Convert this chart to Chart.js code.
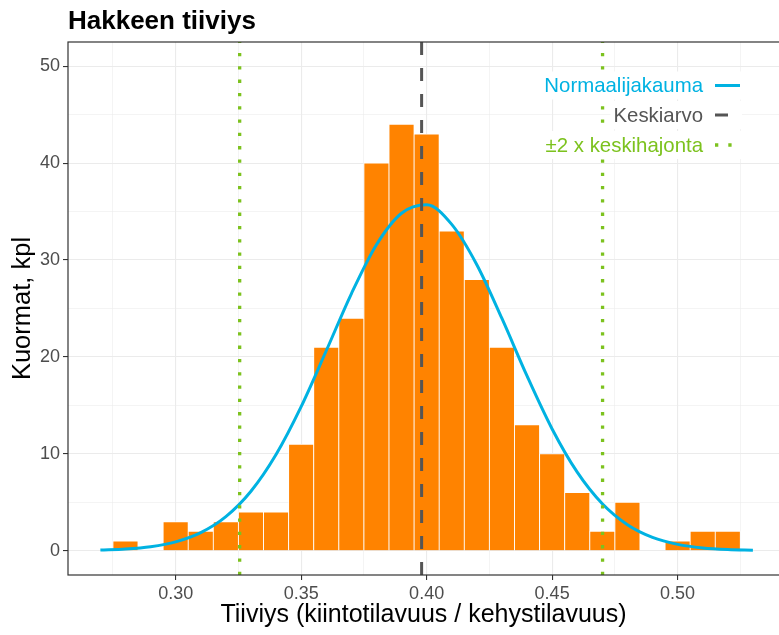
<!DOCTYPE html>
<html>
<head>
<meta charset="utf-8">
<script src="https://cdn.jsdelivr.net/npm/chart.js@4.4.1/dist/chart.umd.min.js"></script>
<style>
  body { margin: 0; background: #fff; }
  #wrap { width: 779px; height: 635px; }
</style>
</head>
<body>
<div id="wrap"><canvas id="chart" width="779" height="635"></canvas></div>
<script>
const titleText = 'Hakkeen tiiviys';
const xTitle = 'Tiiviys (kiintotilavuus / kehystilavuus)';
const yTitle = 'Kuormat, kpl';

// histogram, bin width 0.01
const binCenters = [0.28, 0.29, 0.30, 0.31, 0.32, 0.33, 0.34, 0.35, 0.36, 0.37, 0.38, 0.39, 0.40,
  0.41, 0.42, 0.43, 0.44, 0.45, 0.46, 0.47, 0.48, 0.49, 0.50, 0.51, 0.52];
const binCounts = [1, 0, 3, 2, 3, 4, 4, 11, 21, 24, 40, 44, 43,
  33, 28, 21, 13, 10, 6, 2, 5, 0, 1, 2, 2];

// normal curve
const curveX = [0.27, 0.28, 0.29, 0.30, 0.31, 0.32, 0.33, 0.34, 0.35, 0.36, 0.37, 0.38, 0.39, 0.40,
  0.41, 0.42, 0.43, 0.44, 0.45, 0.46, 0.47, 0.48, 0.49, 0.50, 0.51, 0.52, 0.53];
const curveY = [0.07, 0.18, 0.42, 0.92, 1.87, 3.52, 6.14, 9.93, 14.87, 20.64, 26.52, 31.58, 34.83, 35.7,
  33.68, 29.52, 23.97, 18.04, 12.57, 8.11, 4.85, 2.69, 1.38, 0.66, 0.29, 0.12, 0.05];

const meanValue = 0.398;
const sdLines = [0.3255, 0.4701];

const xMajorTicks = [0.30, 0.35, 0.40, 0.45, 0.50];
const xMinorTicks = [0.275, 0.325, 0.375, 0.425, 0.475, 0.525];
const xTickLabels = ['0.30', '0.35', '0.40', '0.45', '0.50'];
const yMajorTicks = [0, 10, 20, 30, 40, 50];
const yMinorTicks = [5, 15, 25, 35, 45];
const yTickLabels = ['0', '10', '20', '30', '40', '50'];

const xMin = 0.2571, xMax = 0.5404;
const yMin = -2.5, yMax = 52.5;

const FONT = '"Liberation Sans", Arial, sans-serif';
const barColor = '#ff8300';
const curveColor = '#00b2e2';
const meanColor = '#555555';
const sdColor = '#7cc21e';

function buildTicks(major, minor) {
  return major.map(v => ({value: v, isMajor: true}))
    .concat(minor.map(v => ({value: v, isMajor: false})))
    .sort((a, b) => a.value - b.value);
}

const gridOpts = {
  color: '#ebebeb',
  lineWidth: c => (c.tick && c.tick.isMajor ? 1.1 : 0.55),
  tickColor: c => (c.tick && c.tick.isMajor ? '#333333' : 'rgba(0,0,0,0)'),
  tickLength: 5,
  tickWidth: 1.1,
  offset: false
};

const decor = {
  id: 'decor',
  afterDatasetsDraw(chart) {
    const ctx = chart.ctx;
    const rows = [85.5, 115, 145];
    const textRight = 703, keyLeft = 715, keyRight = 740;
    const entries = chart.data.datasets.slice(1);
    ctx.save();
    ctx.font = '20.4px ' + FONT;
    entries.forEach((ds, i) => {
      const y = rows[i];
      const w = ctx.measureText(ds.label).width;
      ctx.fillStyle = '#ffffff';
      ctx.fillRect(textRight - w - 3, y - 14, keyRight + 2 - (textRight - w - 3), 28);
      ctx.fillStyle = ds.borderColor;
      ctx.textAlign = 'right';
      ctx.textBaseline = 'middle';
      ctx.fillText(ds.label, textRight, y + 1);
      ctx.strokeStyle = ds.borderColor;
      ctx.lineWidth = ds.borderWidth;
      ctx.setLineDash(ds.borderDash || []);
      ctx.beginPath();
      ctx.moveTo(keyLeft, y);
      ctx.lineTo(keyRight, y);
      ctx.stroke();
    });
    ctx.restore();
  },
  afterDraw(chart) {
    const ctx = chart.ctx;
    const a = chart.chartArea;
    ctx.save();
    ctx.strokeStyle = '#333333';
    ctx.lineWidth = 1.2;
    ctx.strokeRect(a.left, a.top, a.right - a.left + 20, a.bottom - a.top);
    ctx.fillStyle = '#000000';
    ctx.font = 'bold 26px ' + FONT;
    ctx.textAlign = 'left';
    ctx.textBaseline = 'alphabetic';
    ctx.fillText(titleText, a.left, 29);
    ctx.restore();
  }
};

new Chart(document.getElementById('chart'), {
  type: 'bar',
  data: {
    datasets: [
      {
        type: 'bar',
        label: 'Kuormat',
        data: binCenters.map((x, i) => ({x: x, y: binCounts[i]})),
        backgroundColor: barColor,
        borderColor: '#ffffff',
        borderWidth: {left: 0.8, right: 0.8, top: 0.8, bottom: 0},
        barPercentage: 1,
        categoryPercentage: 1,
        order: 5
      },
      {
        type: 'line',
        label: 'Normaalijakauma',
        data: curveX.map((x, i) => ({x: x, y: curveY[i]})),
        borderColor: curveColor,
        borderWidth: 3,
        pointRadius: 0,
        cubicInterpolationMode: 'monotone',
        fill: false,
        order: 3
      },
      {
        type: 'line',
        label: 'Keskiarvo',
        data: [{x: meanValue, y: yMin}, {x: meanValue, y: yMax}],
        borderColor: meanColor,
        borderWidth: 3,
        borderDash: [13, 13],
        pointRadius: 0,
        fill: false,
        order: 1
      },
      {
        type: 'line',
        label: '±2 x keskihajonta',
        data: [
          {x: sdLines[0], y: yMin}, {x: sdLines[0], y: yMax}, {x: sdLines[0], y: null},
          {x: sdLines[1], y: yMin}, {x: sdLines[1], y: yMax}
        ],
        borderColor: sdColor,
        borderWidth: 3.3,
        borderDash: [3.3, 10],
        pointRadius: 0,
        spanGaps: false,
        fill: false,
        order: 2
      }
    ]
  },
  options: {
    responsive: false,
    animation: false,
    events: [],
    layout: {padding: {top: 42, right: 0, left: 0, bottom: 0}},
    plugins: {
      legend: {display: false},
      title: {display: false},
      tooltip: {enabled: false}
    },
    scales: {
      x: {
        type: 'linear',
        min: xMin,
        max: xMax,
        offset: false,
        grid: gridOpts,
        border: {display: false},
        afterBuildTicks: s => { s.ticks = buildTicks(xMajorTicks, xMinorTicks); },
        afterFit: s => { s.height = 60; },
        ticks: {
          autoSkip: false,
          maxRotation: 0,
          padding: 3,
          color: '#4d4d4d',
          font: {family: FONT, size: 18},
          callback: (v, i, ticks) => (ticks[i].isMajor ? xTickLabels[xMajorTicks.indexOf(v)] : '')
        },
        title: {
          display: true,
          text: xTitle,
          color: '#000000',
          font: {family: FONT, size: 25},
          padding: {top: 0, bottom: 5}
        }
      },
      y: {
        type: 'linear',
        min: yMin,
        max: yMax,
        grid: gridOpts,
        border: {display: false},
        afterBuildTicks: s => { s.ticks = buildTicks(yMajorTicks, yMinorTicks); },
        afterFit: s => { s.width = 68; },
        ticks: {
          autoSkip: false,
          padding: 3,
          color: '#4d4d4d',
          font: {family: FONT, size: 18},
          callback: (v, i, ticks) => (ticks[i].isMajor ? yTickLabels[yMajorTicks.indexOf(v)] : '')
        },
        title: {
          display: true,
          text: yTitle,
          color: '#000000',
          font: {family: FONT, size: 25.5},
          padding: {top: 8, bottom: 0}
        }
      }
    }
  },
  plugins: [decor]
});
</script>
</body>
</html>
